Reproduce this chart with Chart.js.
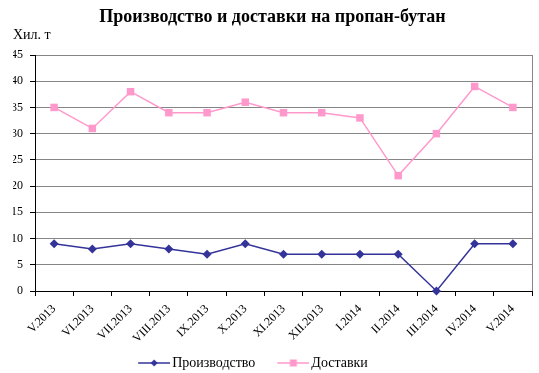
<!DOCTYPE html>
<html>
<head>
<meta charset="utf-8">
<script src="https://cdn.jsdelivr.net/npm/chart.js@4/dist/chart.umd.min.js"></script>
<style>
html,body{margin:0;padding:0;background:#fff;}
#wrap{width:539px;height:373px;}
</style>
</head>
<body>
<div id="wrap"><canvas id="c" width="539" height="373"></canvas></div>
<script>
const categories = ['V.2013','VI.2013','VII.2013','VIII.2013','IX.2013','X.2013','XI.2013','XII.2013','I.2014','II.2014','III.2014','IV.2014','V.2014'];
const production = [9, 8, 9, 8, 7, 9, 7, 7, 7, 7, 0, 9, 9];
const deliveries = [35, 31, 38, 34, 34, 36, 34, 34, 33, 22, 30, 39, 35];
const seriesNames = ['Производство', 'Доставки'];
const yMin = 0, yMax = 45, yStep = 5;
const titleText = 'Производство и доставки на пропан-бутан';
const unitText = 'Хил. т';

const BLUE = '#333399';
const PINK = '#FF99CC';
const FONT = "'Liberation Serif', 'Times New Roman', serif";

function legendIcon(color, shape) {
  const c = document.createElement('canvas');
  c.width = 53; c.height = 12;
  const g = c.getContext('2d');
  g.strokeStyle = color; g.lineWidth = 1.5;
  g.beginPath(); g.moveTo(21, 6); g.lineTo(53, 6); g.stroke();
  g.fillStyle = color;
  g.beginPath();
  if (shape === 'diamond') {
    g.moveTo(37, 2.5); g.lineTo(40.5, 6); g.lineTo(37, 9.5); g.lineTo(33.5, 6); g.closePath();
  } else {
    g.rect(33.5, 2.5, 7, 7);
  }
  g.fill();
  return c;
}
const icons = [legendIcon(BLUE, 'diamond'), legendIcon(PINK, 'square')];

const framePlugin = {
  id: 'frame',
  beforeDraw(chart) {
    if (chart.legend) {
      chart.legend.right = chart.legend.right - 55;
    }
  },
  afterDraw(chart) {
    const a = chart.chartArea, ctx = chart.ctx;
    ctx.save();
    ctx.strokeStyle = '#868686';
    ctx.lineWidth = 1;
    ctx.beginPath();
    ctx.moveTo(Math.round(a.right) + 0.5, a.top);
    ctx.lineTo(Math.round(a.right) + 0.5, a.bottom);
    ctx.stroke();
    ctx.restore();
  }
};

new Chart(document.getElementById('c'), {
  type: 'line',
  data: {
    labels: categories,
    datasets: [
      {
        label: seriesNames[0], data: production,
        borderColor: BLUE, backgroundColor: BLUE, borderWidth: 1.5,
        pointStyle: 'rectRot', pointRadius: 4.5, pointBackgroundColor: BLUE, pointBorderColor: BLUE,
        pointBorderWidth: 0, tension: 0, clip: false
      },
      {
        label: seriesNames[1], data: deliveries,
        borderColor: PINK, backgroundColor: PINK, borderWidth: 1.5,
        pointStyle: 'rect', pointRadius: 5.3, pointBackgroundColor: PINK, pointBorderColor: PINK,
        pointBorderWidth: 0, tension: 0, clip: false
      }
    ]
  },
  options: {
    responsive: false,
    animation: false,
    devicePixelRatio: 1,
    layout: { padding: { left: 13, right: 7, top: 0, bottom: -7 } },
    plugins: {
      title: {
        display: true, text: titleText, color: '#000',
        font: { family: FONT, size: 18, weight: 'bold' },
        padding: { top: 7, bottom: 0 }
      },
      subtitle: {
        display: true, text: unitText, color: '#000', align: 'start',
        font: { family: FONT, size: 14, lineHeight: 1 },
        padding: { top: 0, bottom: 12.4 }
      },
      legend: {
        display: true, position: 'bottom',
        labels: {
          color: '#000',
          font: { family: FONT, size: 14, lineHeight: 1 },
          usePointStyle: true, pointStyleWidth: 43, boxHeight: 12,
          padding: 6,
          generateLabels(chart) {
            return chart.data.datasets.map((ds, i) => ({
              text: ds.label, pointStyle: icons[i], fillStyle: ds.borderColor,
              strokeStyle: ds.borderColor, lineWidth: 0, hidden: false, datasetIndex: i, fontColor: '#000'
            }));
          }
        }
      },
      tooltip: { enabled: false }
    },
    scales: {
      x: {
        offset: true,
        grid: { offset: true, drawOnChartArea: false, tickLength: 5, tickColor: '#000', color: '#000' },
        border: { color: '#000', width: 1 },
        ticks: {
          color: '#000', font: { family: FONT, size: 12 },
          autoSkip: false, minRotation: 45, maxRotation: 45, padding: 6
        },
        afterFit(scale) { scale.height = 59; }
      },
      y: {
        min: yMin, max: yMax,
        grid: { color: '#868686', lineWidth: 1, tickLength: 5, tickColor: '#000' },
        border: { color: '#000', width: 1 },
        ticks: {
          stepSize: yStep, color: '#000', font: { family: FONT, size: 12 }, padding: 7
        },
        afterFit(scale) { scale.width = 22; }
      }
    }
  },
  plugins: [framePlugin]
});
</script>
</body>
</html>
